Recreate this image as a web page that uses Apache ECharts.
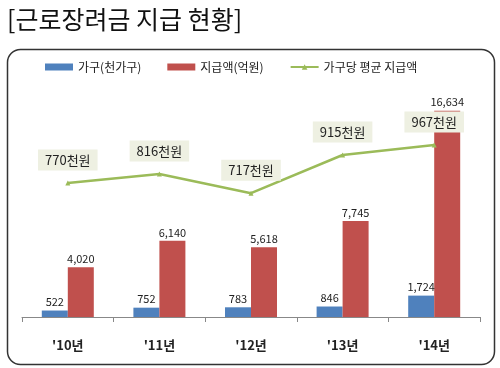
<!DOCTYPE html>
<html><head><meta charset="utf-8">
<script src="https://cdn.jsdelivr.net/npm/echarts@6/dist/echarts.min.js"></script>
<style>html,body{margin:0;padding:0;background:#fff}#c{width:500px;height:368px}</style>
</head><body><div id="c"></div>
<script>
const categories = ["'10년", "'11년", "'12년", "'13년", "'14년"];
const households = [522, 752, 783, 846, 1724];
const payments = [4020, 6140, 5618, 7745, 16634];
const avgPayment = [770, 816, 717, 915, 967];
const seriesNames = ['가구(천가구)', '지급액(억원)', '가구당 평균 지급액'];

const chart = echarts.init(document.getElementById('c'), null, {renderer: 'canvas'});
const font = "'Noto Sans CJK KR', 'Noto Sans', sans-serif";
chart.setOption({
  animation: false,
  textStyle: {fontFamily: font},
  title: {
    text: '[근로장려금 지급 현황]', left: 2, top: 2,
    textStyle: {fontSize: 25, fontWeight: 'normal', color: '#111', fontFamily: font}
  },
  graphic: [{
    type: 'rect', shape: {x: 7.5, y: 49.5, width: 487, height: 315, r: 13},
    style: {fill: 'none', stroke: '#333', lineWidth: 1.5}, z: -1
  }],
  legend: {
    top: 56, left: 40, itemGap: 26, itemWidth: 28, itemHeight: 7,
    textStyle: {fontSize: 12, color: '#222', fontFamily: font},
    data: [
      {name: seriesNames[0], icon: 'rect'},
      {name: seriesNames[1], icon: 'rect'},
      {name: seriesNames[2]}
    ]
  },
  grid: {left: 22, right: 20, top: 100, bottom: 51},
  xAxis: {
    type: 'category', data: categories,
    axisLine: {lineStyle: {color: '#888', width: 1}},
    axisTick: {show: true, inside: false, length: 5, lineStyle: {color: '#888'}},
    axisLabel: {fontSize: 13, color: '#222', margin: 22, fontFamily: font, fontWeight: 'bold'}
  },
  yAxis: [
    {type: 'value', min: 0, max: 17500, show: false, splitLine: {show: false}},
    {type: 'value', min: 75, max: 1200, show: false, splitLine: {show: false}}
  ],
  series: [
    {
      name: seriesNames[0], type: 'bar', data: households, barWidth: 26, barGap: '0%',
      itemStyle: {color: '#4f81bd'},
      label: {show: true, position: 'top', fontSize: 11, color: '#222', distance: 3,
        formatter: p => p.value.toLocaleString('en-US')}
    },
    {
      name: seriesNames[1], type: 'bar', data: payments, barWidth: 26, barGap: '0%',
      itemStyle: {color: '#c0504d'},
      label: {show: true, position: 'top', fontSize: 11, color: '#222', distance: 3,
        formatter: p => p.value.toLocaleString('en-US')}
    },
    {
      name: seriesNames[2], type: 'line', yAxisIndex: 1, data: avgPayment,
      lineStyle: {color: '#9bbb59', width: 2.5}, itemStyle: {color: '#9bbb59'},
      symbol: 'triangle', symbolSize: 5,
      label: {show: true, position: 'top', distance: 10, fontSize: 13, color: '#222',
        backgroundColor: '#eef0e2', padding: [4, 7, 4, 7], fontFamily: font,
        formatter: p => p.value + '천원'}
    }
  ]
});
</script></body></html>
